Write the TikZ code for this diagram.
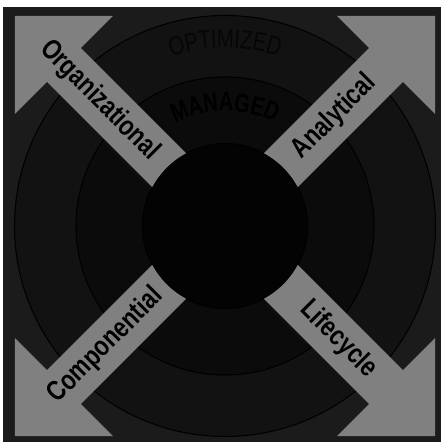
\documentclass[tikz,border=0pt]{standalone}
\usepackage{fontspec}
\setmainfont{Liberation Sans}
\newfontfamily\armfont[FakeStretch=0.8]{Liberation Sans}
\newfontfamily\ringfont[FakeStretch=0.76]{Liberation Sans}
\usetikzlibrary{decorations.text}

\definecolor{framegray}{HTML}{1B1B1B}
\definecolor{ringouter}{HTML}{121212}
\definecolor{ringmid}{HTML}{0B0B0B}
\definecolor{coreblack}{HTML}{030303}
\definecolor{arrowgray}{HTML}{808080}
\definecolor{ringtext}{HTML}{060606}

\tikzset{
  ring/.style={draw=black, line width=0.6pt},
  armlabel/.style={font=\armfont\bfseries\fontsize{16}{18}\selectfont, text=black, inner sep=0pt},
  bigarrow/.pic={
    \fill[arrowgray] (-16.9:82.5) -- (227.7,-24) -- (227.7,-69.3) -- (297,0)
      -- (227.7,69.3) -- (227.7,24) -- (16.9:82.5)
      arc[start angle=16.9, end angle=-16.9, radius=82.5] -- cycle;
  }
}

\begin{document}
\begin{tikzpicture}[x=0.02cm,y=0.02cm]
\useasboundingbox (-225,-216) rectangle (216,226);
\fill[framegray] (-221.7,-216) rectangle (216,218.7);

% maturity rings
\filldraw[ring, fill=ringouter] (0,0) circle[radius=210.5];
\filldraw[ring, fill=ringmid] (0,0) circle[radius=149];
\filldraw[ring, fill=coreblack] (0,0) circle[radius=82.5];

\path[decorate, decoration={text along path, text align=center,
    text={|\ringfont\fontsize{15}{17}\selectfont\color{ringtext}|OPTIMIZED}}]
  (150:178) arc[start angle=150, end angle=30, radius=178];
\path[decorate, decoration={text along path, text align=center,
    text={|\ringfont\bfseries\fontsize{15}{17}\selectfont\color{black}|MANAGED}}]
  (150:115) arc[start angle=150, end angle=30, radius=115];

% the four arms
\pic[rotate=45] {bigarrow};
\pic[rotate=135] {bigarrow};
\pic[rotate=225] {bigarrow};
\pic[rotate=315] {bigarrow};

\node[armlabel, rotate=-45] (organizational) at (135:177.5) {Organizational};
\node[armlabel, rotate=45] (analytical) at (45:154.5) {Analytical};
\node[armlabel, rotate=45] (componential) at (225:168.9) {Componential};
\node[armlabel, rotate=-45] (lifecycle) at (315:160.2) {Lifecycle};
\end{tikzpicture}
\end{document}
